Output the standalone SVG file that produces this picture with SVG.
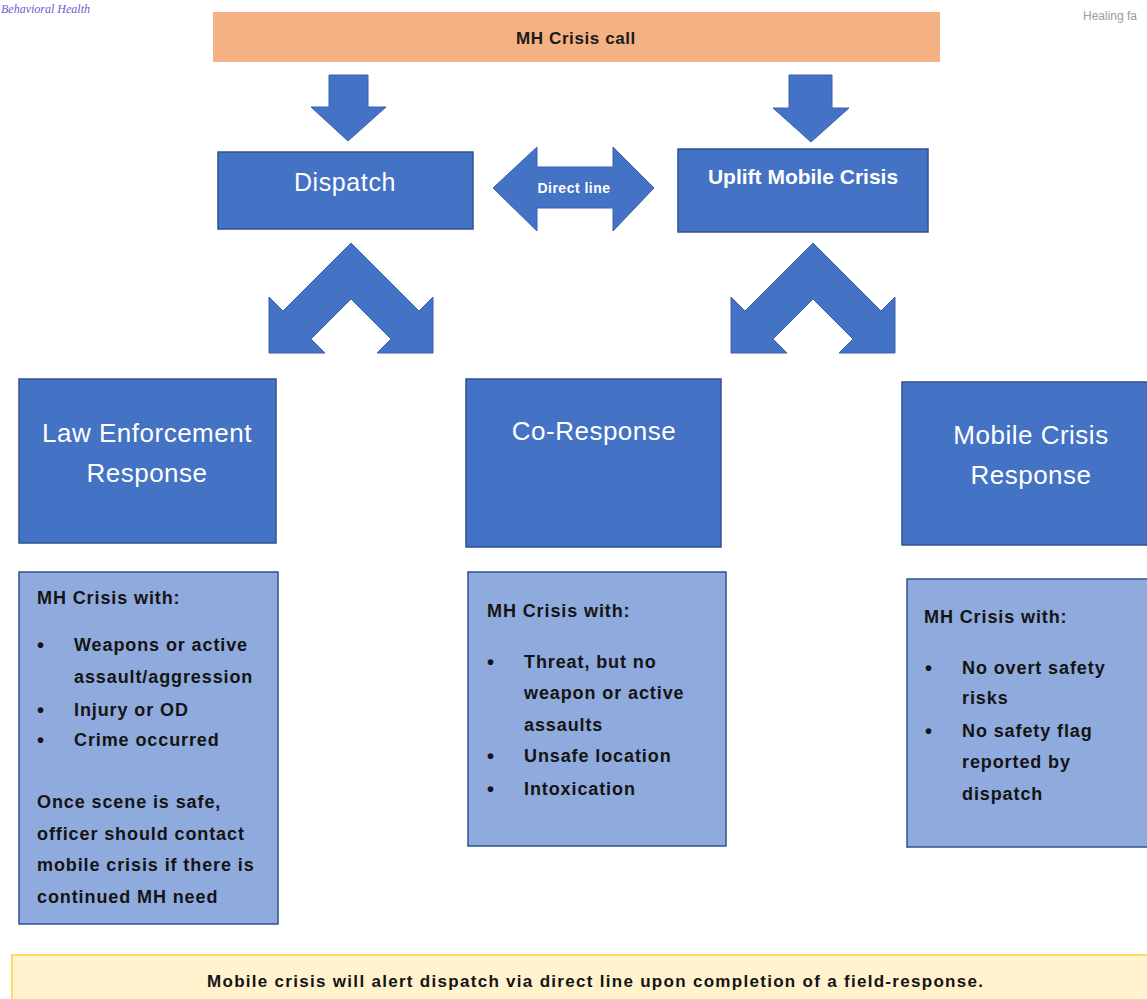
<svg xmlns="http://www.w3.org/2000/svg" width="1147" height="999" viewBox="0 0 1147 999">
<style>
.bg{fill:#ffffff}
.node{fill:#4472C4;stroke:#2F528F;stroke-width:1.5}
.light{fill:#8FAADC;stroke:#2F528F;stroke-width:1.5}
.arrow{fill:#4472C4;stroke:#3A62AC;stroke-width:1}
.hd{font-family:"Liberation Sans",Arial,sans-serif;fill:#ffffff;text-anchor:middle}
.big{font-size:26px;letter-spacing:0.5px}
.body{font-family:"Liberation Sans",Arial,sans-serif;font-size:18px;font-weight:bold;fill:#141414;letter-spacing:0.9px}
.bul{font-family:"Liberation Sans",Arial,sans-serif;font-size:20px;font-weight:bold;fill:#141414}
</style>
<rect class="bg" x="0" y="0" width="1147" height="999"/>
<text x="1" y="13" font-family="Liberation Serif,serif" font-style="italic" font-size="12" fill="#6B5BD2">Behavioral Health</text>
<text x="1083" y="20" font-family="Liberation Sans Narrow,Liberation Sans,sans-serif" font-size="12" fill="#9a9a9a">Healing fa</text>

<g id="connectors">
  <polygon class="arrow" points="329,75 368,75 368,107 386,107 348,141 311,107 329,107"/>
  <polygon class="arrow" points="789,75 832,75 832,108 849,108 811,142 773,108 789,108"/>
  <g id="direct-line">
    <polygon class="arrow" points="493,188 537,147 537,167 613,167 613,147 654,188 613,231 613,208 537,208 537,231"/>
    <text class="hd" x="574" y="193" font-size="14" font-weight="bold" letter-spacing="0.5">Direct line</text>
  </g>
  <polygon class="arrow" transform="translate(351,243)" points="0,0 68,68 82,54 82,110 26,110 40,96 0,56 -40,96 -26,110 -82,110 -82,54 -68,68"/>
  <polygon class="arrow" transform="translate(813,243)" points="0,0 68,68 82,54 82,110 26,110 40,96 0,56 -40,96 -26,110 -82,110 -82,54 -68,68"/>
</g>

<g id="crisis-call">
  <rect x="213" y="12" width="727" height="50" fill="#F4B183"/>
  <text x="576" y="44" font-family="Liberation Sans,Arial,sans-serif" font-size="17" font-weight="bold" fill="#1a1a1a" text-anchor="middle" letter-spacing="0.6">MH Crisis call</text>
</g>

<g id="dispatch">
  <rect class="node" x="218" y="152" width="255" height="77"/>
  <text class="hd" x="345" y="191" font-size="25" letter-spacing="0.6">Dispatch</text>
</g>

<g id="uplift">
  <rect class="node" x="678" y="149" width="250" height="83"/>
  <text class="hd" x="803" y="184" font-size="21" font-weight="bold">Uplift Mobile Crisis</text>
</g>

<g id="law-enforcement">
  <rect class="node" x="19" y="379" width="257" height="164"/>
  <text class="hd big" x="147" y="442">Law Enforcement</text>
  <text class="hd big" x="147" y="482">Response</text>
</g>

<g id="co-response">
  <rect class="node" x="466" y="379" width="255" height="168"/>
  <text class="hd big" x="594" y="440">Co-Response</text>
</g>

<g id="mobile-crisis">
  <rect class="node" x="902" y="382" width="250" height="163"/>
  <text class="hd big" x="1031" y="444">Mobile Crisis</text>
  <text class="hd big" x="1031" y="484">Response</text>
</g>

<g id="le-criteria">
  <rect class="light" x="19" y="572" width="259" height="352"/>
  <text class="body" x="37" y="604">MH Crisis with:</text>
  <text class="bul" x="37" y="652">•</text>
  <text class="body" x="74" y="651">Weapons or active</text>
  <text class="body" x="74" y="683">assault/aggression</text>
  <text class="bul" x="37" y="717">•</text>
  <text class="body" x="74" y="716">Injury or OD</text>
  <text class="bul" x="37" y="747">•</text>
  <text class="body" x="74" y="746">Crime occurred</text>
  <text class="body" x="37" y="808">Once scene is safe,</text>
  <text class="body" x="37" y="840">officer should contact</text>
  <text class="body" x="37" y="871">mobile crisis if there is</text>
  <text class="body" x="37" y="903">continued MH need</text>
</g>

<g id="co-criteria">
  <rect class="light" x="468" y="572" width="258" height="274"/>
  <text class="body" x="487" y="617">MH Crisis with:</text>
  <text class="bul" x="487" y="669">•</text>
  <text class="body" x="524" y="668">Threat, but no</text>
  <text class="body" x="524" y="699">weapon or active</text>
  <text class="body" x="524" y="731">assaults</text>
  <text class="bul" x="487" y="763">•</text>
  <text class="body" x="524" y="762">Unsafe location</text>
  <text class="bul" x="487" y="796">•</text>
  <text class="body" x="524" y="795">Intoxication</text>
</g>

<g id="mc-criteria">
  <rect class="light" x="907" y="579" width="250" height="268"/>
  <text class="body" x="924" y="623">MH Crisis with:</text>
  <text class="bul" x="925" y="675">•</text>
  <text class="body" x="962" y="674">No overt safety</text>
  <text class="body" x="962" y="704">risks</text>
  <text class="bul" x="925" y="738">•</text>
  <text class="body" x="962" y="737">No safety flag</text>
  <text class="body" x="962" y="768">reported by</text>
  <text class="body" x="962" y="800">dispatch</text>
</g>

<g id="footer">
  <rect x="12" y="955" width="1145" height="60" fill="#FFF2CC" stroke="#FFD966" stroke-width="2"/>
  <text x="595" y="987" font-family="Liberation Sans,Arial,sans-serif" font-size="17" font-weight="bold" fill="#141414" text-anchor="middle" textLength="776" lengthAdjust="spacing">Mobile crisis will alert dispatch via direct line upon completion of a field-response.</text>
</g>
</svg>
